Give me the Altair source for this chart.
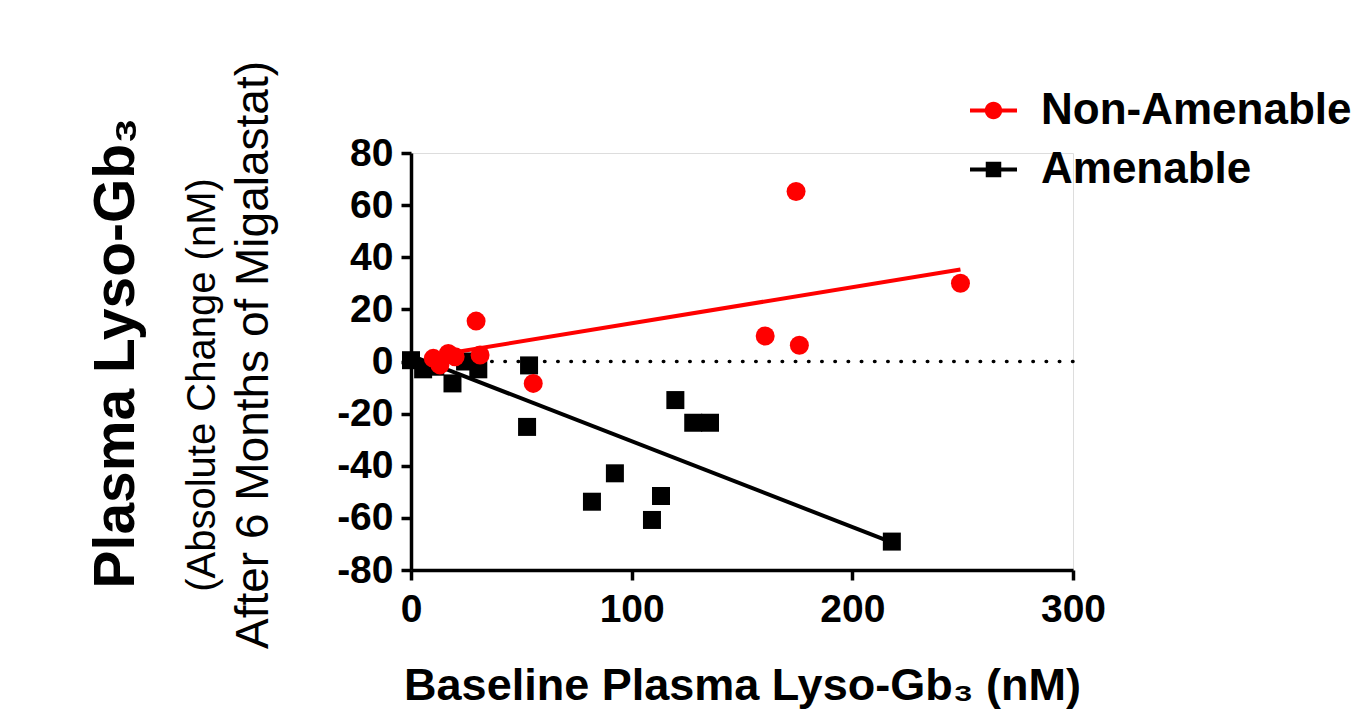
import altair as alt
import pandas as pd

# ---------------- data ----------------
series_names = ["Non-Amenable", "Amenable"]
series_colors = ["#ff0000", "#000000"]

red_x = [10.1, 13.1, 16.9, 20.0, 29.5, 31.3, 55.4, 160.5, 174.5, 176.0, 249.0]
red_y = [1.2, -1.3, 3.1, 1.8, 15.5, 2.5, -8.4, 9.8, 65.2, 6.2, 30.0]

black_x = [0.0, 5.5, 11.0, 18.8, 24.5, 30.5, 53.5, 52.6, 82.0, 92.4, 109.2, 113.3,
           119.8, 127.9, 135.5, 217.9]
black_y = [0.5, -3.0, -2.0, -8.4, 0.0, -3.0, -1.5, -25.1, -53.8, -42.9, -60.8, -51.6,
           -14.8, -23.5, -23.5, -69.1]

# regression lines (end points)
red_fit_x = [10.1, 249.0]
red_fit_y = [2.2, 35.3]
black_fit_x = [0.0, 217.9]
black_fit_y = [2.3, -69.4]

zero_y = [0]

x_ticks = [0, 100, 200, 300]
y_ticks = [-80, -60, -40, -20, 0, 20, 40, 60, 80]

x_title = "Baseline Plasma Lyso-Gb\u2083 (nM)"
y_title_lines = ["Plasma Lyso-Gb\u2083", "(Absolute Change (nM)", "After 6 Months of Migalastat)"]

# ---------------- tables ----------------
red_df = pd.DataFrame({"x": red_x, "y": red_y, "series": series_names[0]})
black_df = pd.DataFrame({"x": black_x, "y": black_y, "series": series_names[1]})
red_fit_df = pd.DataFrame({"x": red_fit_x, "y": red_fit_y})
black_fit_df = pd.DataFrame({"x": black_fit_x, "y": black_fit_y})
zero_df = pd.DataFrame({"y": zero_y})

FONT = "Liberation Sans"

x_enc = alt.X(
    "x:Q",
    scale=alt.Scale(domain=[0, 300], nice=False, zero=False),
    axis=alt.Axis(
        values=x_ticks, title=x_title, grid=False,
        domainColor="black", domainWidth=3.5, tickColor="black", tickWidth=3.5, tickSize=10,
        labelFont=FONT, labelFontWeight="bold", labelFontSize=39, labelColor="black",
        labelPadding=10, labelFlush=False, labelOverlap=False,
        labelExpr="'' + datum.value",
        titleFont=FONT, titleFontWeight="bold", titleFontSize=45, titleColor="black",
        titlePadding=34,
    ),
)
y_enc = alt.Y(
    "y:Q",
    scale=alt.Scale(domain=[-80, 80], nice=False, zero=False),
    axis=alt.Axis(
        values=y_ticks, title=None, grid=False,
        domainColor="black", domainWidth=3.5, tickColor="black", tickWidth=3.5, tickSize=10,
        labelFont=FONT, labelFontWeight="bold", labelFontSize=39, labelColor="black",
        labelPadding=8, labelFlush=False, labelOverlap=False,
        labelExpr="'' + datum.value",
    ),
)

circle_line = ("M-1,-0.085H1V0.085H-1Z "
               "M-0.37,0A0.37,0.37,0,1,1,0.37,0A0.37,0.37,0,1,1,-0.37,0Z")
square_line = ("M-1,-0.085H1V0.085H-1Z "
               "M-0.33,-0.33H0.33V0.33H-0.33Z")

legend = alt.Legend(
    title=None, orient="none", legendX=559, legendY=-66,
    symbolType=alt.ExprRef(expr="datum.value == 'Amenable' ? '" + square_line + "' : '" + circle_line + "'"),
    symbolSize=2209, symbolStrokeWidth=0,
    labelFont=FONT, labelFontWeight="bold", labelFontSize=44, labelColor="black",
    labelOffset=24, labelLimit=500, rowPadding=13,
)

color_enc = alt.Color("series:N", scale=alt.Scale(domain=series_names, range=series_colors), legend=legend)

zero_rule = alt.Chart(zero_df).mark_rule(
    color="black", strokeWidth=3.5, strokeDash=[0.5, 12.7], strokeCap="round"
).encode(y=alt.Y("y:Q"))

black_line = alt.Chart(black_fit_df).mark_line(color="black", strokeWidth=4).encode(x=x_enc, y=y_enc)
red_line = alt.Chart(red_fit_df).mark_line(color="#ff0000", strokeWidth=4).encode(x=x_enc, y=y_enc)

black_pts = alt.Chart(black_df).mark_point(shape="square", filled=True, size=324, opacity=1).encode(
    x=x_enc, y=y_enc, color=color_enc)
red_pts = alt.Chart(red_df).mark_point(shape="circle", filled=True, size=361, opacity=1).encode(
    x=x_enc, y=y_enc, color=color_enc)

def ytext(line, size, weight, px, py):
    return alt.Chart(pd.DataFrame({"t": [line]})).mark_text(
        angle=270, font=FONT, fontSize=size, fontWeight=weight, color="black",
        align="center", baseline="middle"
    ).encode(text="t:N", x=alt.value(px), y=alt.value(py))

t1 = ytext(y_title_lines[0], 57, "bold", -294, 200)
t2 = ytext(y_title_lines[1], 40, "normal", -208, 232)
t3 = ytext(y_title_lines[2], 46, "normal", -157, 202)

chart = alt.layer(
    zero_rule, black_line, black_pts, red_line, red_pts, t1, t2, t3
).properties(
    width=662, height=417,
    autosize=alt.AutoSizeParams(type="none"),
    padding={"left": 403, "top": 145, "right": 290, "bottom": 144},
).configure_view(stroke=None).configure(background="white")

chart.save("out.html", embed_options={"renderer": "svg", "actions": False})
